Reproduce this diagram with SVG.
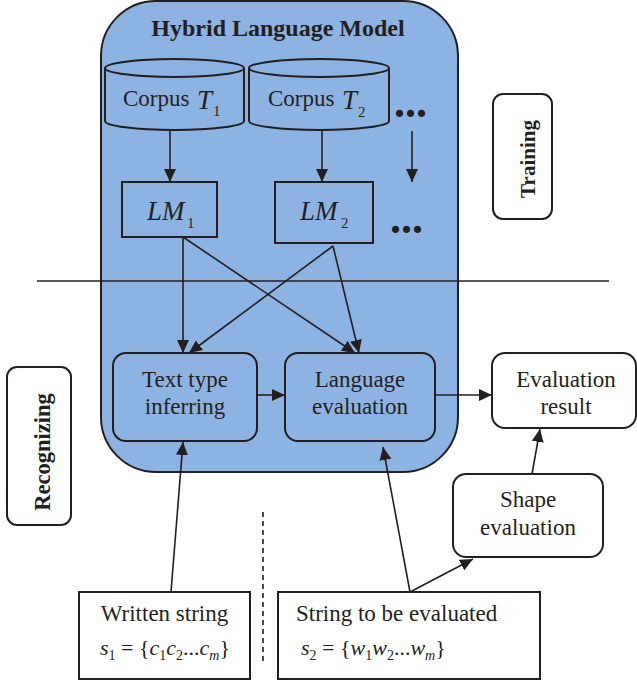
<svg xmlns="http://www.w3.org/2000/svg" width="637" height="685" viewBox="0 0 637 685">
<defs>
<marker id="ah" markerUnits="userSpaceOnUse" markerWidth="14" markerHeight="12" refX="13" refY="6" orient="auto">
<path d="M0,0 L13,6 L0,12 z" fill="#231f20"/>
</marker>
<style>
text{font-family:"Liberation Serif","Times New Roman",serif;fill:#231f20}
.t{font-size:23px;text-anchor:middle}
.b{font-weight:bold}
.i{font-style:italic}
.box{stroke:#231f20;stroke-width:2}
.blue{fill:#8db3e2}
.white{fill:#ffffff}
.ln{stroke:#231f20;stroke-width:1.6;fill:none}
.arr{stroke:#231f20;stroke-width:1.6;fill:none;marker-end:url(#ah)}
.dots{font-size:44px;font-weight:bold}
</style>
</defs>
<rect width="637" height="685" fill="#ffffff"/>

<g id="hybrid-model">
<rect x="101" y="1" width="357" height="471" rx="55" ry="55" class="box blue"/>
<text x="278" y="36" class="b" font-size="24" text-anchor="middle">Hybrid Language Model</text>
</g>

<g id="corpus1">
<path d="M105,68 V121 A69.5,9 0 0 0 244,121 V68" class="box blue"/>
<ellipse cx="174.5" cy="68" rx="69.5" ry="9" class="box blue"/>
<text x="123" y="106" font-size="23">Corpus</text>
<text x="197" y="109" font-size="27" class="i">T</text>
<text x="213" y="116" font-size="15">1</text>
</g>

<g id="corpus2">
<path d="M249,68 V121 A70,9 0 0 0 389,121 V68" class="box blue"/>
<ellipse cx="319" cy="68" rx="70" ry="9" class="box blue"/>
<text x="268" y="106" font-size="23">Corpus</text>
<text x="342" y="109" font-size="27" class="i">T</text>
<text x="358" y="117" font-size="15">2</text>
</g>

<g id="dots1"><text x="394" y="117" class="dots">...</text></g>

<g id="lm1">
<rect x="122" y="182" width="95" height="55" class="box blue"/>
<text x="147" y="220" font-size="27" class="i">LM</text>
<text x="187" y="228" font-size="15">1</text>
</g>

<g id="lm2">
<rect x="275" y="182" width="98" height="61" class="box blue"/>
<text x="300" y="220" font-size="27" class="i">LM</text>
<text x="341" y="228" font-size="15">2</text>
</g>

<g id="dots2"><text x="390" y="233" class="dots">...</text></g>

<g id="text-type">
<rect x="113" y="353" width="144" height="88" rx="13" class="box blue"/>
<text x="185" y="387" class="t">Text type</text>
<text x="185" y="414" class="t">inferring</text>
</g>

<g id="language-eval">
<rect x="285" y="353" width="150" height="88" rx="13" class="box blue"/>
<text x="360" y="387" class="t">Language</text>
<text x="360" y="414" class="t">evaluation</text>
</g>

<g id="eval-result">
<rect x="492" y="353" width="144" height="75" rx="13" class="box white"/>
<text x="566" y="387" class="t">Evaluation</text>
<text x="566" y="414" class="t">result</text>
</g>

<g id="shape-eval">
<rect x="453" y="474" width="150" height="83" rx="13" class="box white"/>
<text x="528" y="507" class="t">Shape</text>
<text x="528" y="535" class="t">evaluation</text>
</g>

<g id="training">
<rect x="493" y="94" width="59" height="125" rx="10" class="box white"/>
<text transform="translate(527,159) rotate(-90)" x="0" y="8" class="b" font-size="21" text-anchor="middle">Training</text>
</g>

<g id="recognizing">
<rect x="7" y="367" width="64" height="158" rx="10" class="box white"/>
<text transform="translate(42,452) rotate(-90)" x="0" y="8" class="b" font-size="22.5" text-anchor="middle">Recognizing</text>
</g>

<g id="written-string">
<rect x="79" y="592" width="171" height="87" class="box white"/>
<text x="164.5" y="621" class="t">Written string</text>
<text x="100" y="655" font-size="22"><tspan class="i">s</tspan><tspan dy="5" font-size="14">1</tspan><tspan dy="-5"> = {</tspan><tspan class="i">c</tspan><tspan dy="5" font-size="14">1</tspan><tspan dy="-5" class="i">c</tspan><tspan dy="5" font-size="14">2</tspan><tspan dy="-5">...</tspan><tspan class="i">c</tspan><tspan dy="5" font-size="14" class="i">m</tspan><tspan dy="-5">}</tspan></text>
</g>

<g id="string-evaluated">
<rect x="278" y="592" width="262" height="87" class="box white"/>
<text x="296" y="621" font-size="23">String to be evaluated</text>
<text x="301" y="655" font-size="22"><tspan class="i">s</tspan><tspan dy="5" font-size="14">2</tspan><tspan dy="-5"> = {</tspan><tspan class="i">w</tspan><tspan dy="5" font-size="14">1</tspan><tspan dy="-5" class="i">w</tspan><tspan dy="5" font-size="14">2</tspan><tspan dy="-5">...</tspan><tspan class="i">w</tspan><tspan dy="5" font-size="14" class="i">m</tspan><tspan dy="-5">}</tspan></text>
</g>

<g id="connectors">
<line x1="37" y1="281" x2="609" y2="281" class="ln"/>
<line x1="263" y1="512" x2="263" y2="664" class="ln" stroke-dasharray="5,4"/>
<line x1="170" y1="131" x2="170" y2="182" class="arr"/>
<line x1="322" y1="131" x2="322" y2="182" class="arr"/>
<line x1="412" y1="131" x2="412" y2="182" class="arr"/>
<line x1="183" y1="237" x2="183" y2="353" class="arr"/>
<line x1="183" y1="237" x2="355" y2="353" class="arr"/>
<line x1="333" y1="246" x2="189" y2="353" class="arr"/>
<line x1="333" y1="246" x2="359" y2="353" class="arr"/>
<line x1="257" y1="395" x2="285" y2="395" class="arr"/>
<line x1="435" y1="395" x2="492" y2="395" class="arr"/>
<line x1="171" y1="592" x2="183" y2="442" class="arr"/>
<line x1="410" y1="592" x2="383" y2="447" class="arr"/>
<line x1="410" y1="592" x2="473" y2="559" class="arr"/>
<line x1="532" y1="474" x2="540" y2="429" class="arr"/>
</g>
</svg>
